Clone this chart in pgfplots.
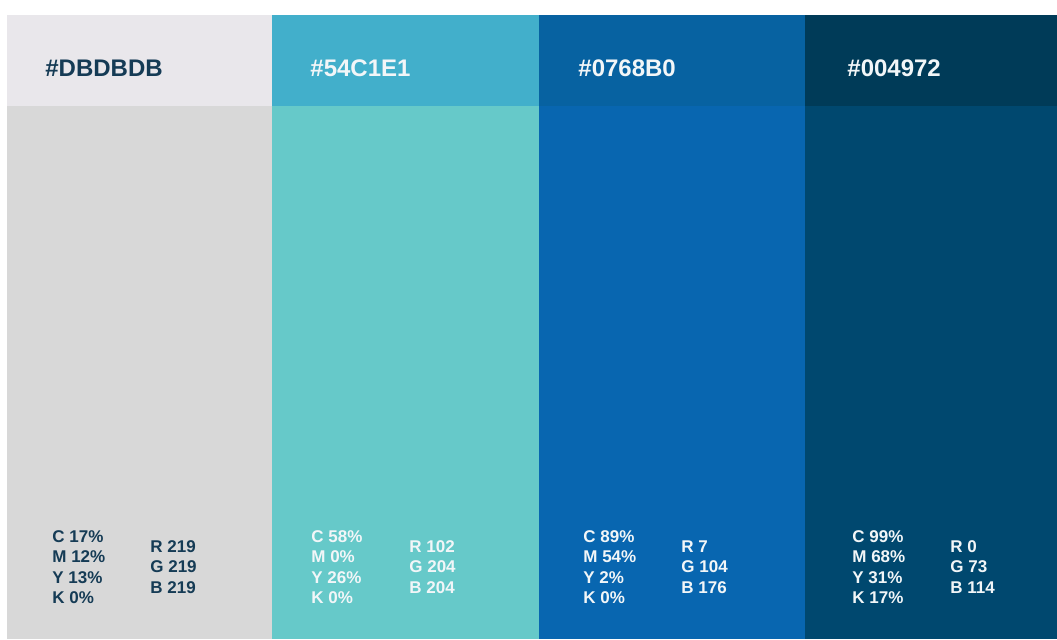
\documentclass[border=0pt]{standalone}
\usepackage{fontspec}
\setmainfont{Liberation Sans}
\usepackage{pgfplots}
\pgfplotsset{compat=1.18}

\definecolor{headA}{HTML}{E9E7EB}
\definecolor{bodyA}{HTML}{D8D8D8}
\definecolor{headB}{HTML}{42AFCB}
\definecolor{bodyB}{HTML}{66C9C9}
\definecolor{headC}{HTML}{0762A1}
\definecolor{bodyC}{HTML}{0866B0}
\definecolor{headD}{HTML}{003B58}
\definecolor{bodyD}{HTML}{00486F}
\definecolor{darktext}{HTML}{153B55}
\definecolor{lighttext}{HTML}{F2F6F8}

\begin{document}
\begin{tikzpicture}
\begin{axis}[
    width=528.5pt, height=319.5pt,
    scale only axis,
    hide axis,
    xmin=0, xmax=1057,
    ymin=0, ymax=639,
    y dir=reverse,
    enlargelimits=false,
    clip=false,
]
% canvas
\addplot[fill=white, draw=none] coordinates {(0,0) (1057,0) (1057,639) (0,639)} -- cycle;
% header band
\addplot[fill=headA, draw=none] coordinates {(7,15) (272,15) (272,106) (7,106)} -- cycle;
\addplot[fill=headB, draw=none] coordinates {(272,15) (539,15) (539,106) (272,106)} -- cycle;
\addplot[fill=headC, draw=none] coordinates {(539,15) (805,15) (805,106) (539,106)} -- cycle;
\addplot[fill=headD, draw=none] coordinates {(805,15) (1057,15) (1057,106) (805,106)} -- cycle;
% swatch bodies
\addplot[fill=bodyA, draw=none] coordinates {(7,106) (272,106) (272,639) (7,639)} -- cycle;
\addplot[fill=bodyB, draw=none] coordinates {(272,106) (539,106) (539,639) (272,639)} -- cycle;
\addplot[fill=bodyC, draw=none] coordinates {(539,106) (805,106) (805,639) (539,639)} -- cycle;
\addplot[fill=bodyD, draw=none] coordinates {(805,106) (1057,106) (1057,639) (805,639)} -- cycle;

% hex labels
\tikzset{hex/.style={anchor=west, inner sep=0pt, font=\bfseries\fontsize{12}{14}\selectfont},
         vals/.style={anchor=west, inner sep=0pt, align=left, font=\bfseries\fontsize{8.5}{10.25}\selectfont}}
\node[hex, text=darktext]  at (axis cs:45,68)  {\#DBDBDB};
\node[hex, text=lighttext] at (axis cs:310,68) {\#54C1E1};
\node[hex, text=lighttext] at (axis cs:578,68) {\#0768B0};
\node[hex, text=lighttext] at (axis cs:847,68) {\#004972};

% CMYK / RGB values
\node[vals, text=darktext]  at (axis cs:52,567)  {C 17\%\\M 12\%\\Y 13\%\\K 0\%};
\node[vals, text=darktext]  at (axis cs:150,567) {R 219\\G 219\\B 219};
\node[vals, text=lighttext] at (axis cs:311,567) {C 58\%\\M 0\%\\Y 26\%\\K 0\%};
\node[vals, text=lighttext] at (axis cs:409,567) {R 102\\G 204\\B 204};
\node[vals, text=lighttext] at (axis cs:583,567) {C 89\%\\M 54\%\\Y 2\%\\K 0\%};
\node[vals, text=lighttext] at (axis cs:681,567) {R 7\\G 104\\B 176};
\node[vals, text=lighttext] at (axis cs:852,567) {C 99\%\\M 68\%\\Y 31\%\\K 17\%};
\node[vals, text=lighttext] at (axis cs:950,567) {R 0\\G 73\\B 114};
\end{axis}
\end{tikzpicture}
\end{document}
